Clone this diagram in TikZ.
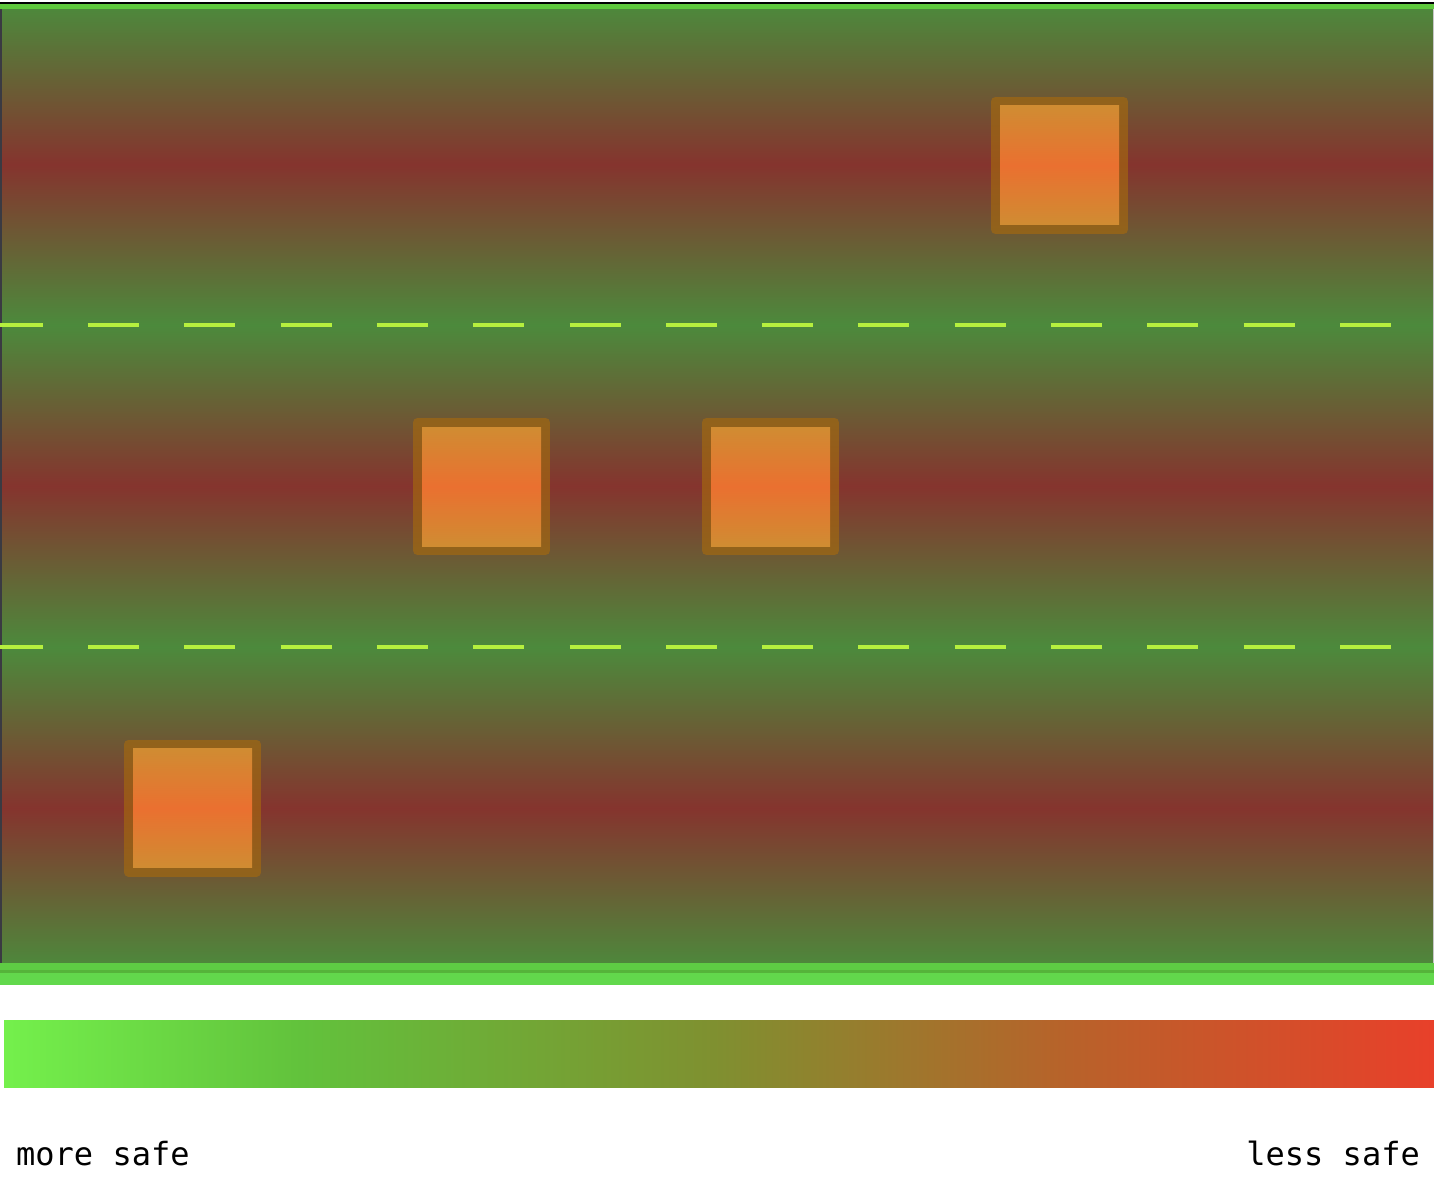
\documentclass[tikz,border=0pt]{standalone}
\usepackage{fontspec}
\newfontfamily\monofont{DejaVu Sans Mono}
\definecolor{laneG}{RGB}{76,138,60}
\definecolor{laneR}{RGB}{133,52,46}
\definecolor{dashC}{RGB}{182,240,62}
\definecolor{topG}{RGB}{94,200,60}
\definecolor{botA}{RGB}{94,204,68}
\definecolor{botB}{RGB}{85,180,58}
\definecolor{botC}{RGB}{98,216,76}
\definecolor{edgeC}{RGB}{58,58,66}
\definecolor{boxBorder}{RGB}{165,105,15}
\definecolor{boxEdgeFill}{RGB}{208,140,50}
\definecolor{boxMidFill}{RGB}{234,112,48}
\pgfdeclarehorizontalshading{safebar}{100bp}{rgb(0bp)=(0.455,0.941,0.298); rgb(25bp)=(0.455,0.941,0.298); rgb(35.35bp)=(0.384,0.761,0.235); rgb(49.8bp)=(0.498,0.565,0.188); rgb(62.25bp)=(0.722,0.384,0.165); rgb(75bp)=(0.91,0.251,0.165); rgb(100bp)=(0.91,0.251,0.165)}
\tikzset{
  lane/.style={top color=laneG, bottom color=laneG, middle color=laneR},
  lanemark/.style={draw=dashC, line width=3.5pt, dash pattern=on 51pt off 45.3pt, dash phase=8.3pt},
  boxedge/.style={draw=boxBorder, draw opacity=0.65, line width=9pt, line join=round},
  boxinner/.style={top color=boxEdgeFill, bottom color=boxEdgeFill, middle color=boxMidFill},
  label/.style={inner sep=0pt, font=\monofont\fontsize{32}{38}\selectfont}
}
\begin{document}
\begin{tikzpicture}[x=1pt,y=-1pt]
\useasboundingbox (0,0) rectangle (1434,1198);
\fill[white] (0,0) rectangle (1434,1198);
% road lanes
\shade[lane] (0,4) rectangle (1434,325);
\shade[lane] (0,325) rectangle (1434,647);
\shade[lane] (0,647) rectangle (1434,969);
% edges
\fill[edgeC] (0,9) rectangle (2,963);
\fill[gray!45] (1433,9) rectangle (1434,963);
% lane markings
\draw[lanemark] (0,325) -- (1434,325);
\draw[lanemark] (0,647) -- (1434,647);
\fill[black] (0,2.5) rectangle (1434,4);
\fill[topG] (0,4) rectangle (1434,9);
\fill[botA] (0,963) rectangle (1434,970);
\fill[botB] (0,970) rectangle (1434,973);
\fill[botC] (0,973) rectangle (1434,985);
% obstacles
\foreach \cx/\cy in {1059.5/165.5, 481.5/486.5, 770.5/486.5, 192.5/808}{
  \draw[boxedge] (\cx-64,\cy-64) rectangle (\cx+64,\cy+64);
  \shade[boxinner] (\cx-59.5,\cy-59.5) rectangle (\cx+59.5,\cy+59.5);
}
% safety colour bar
\shade[shading=safebar] (4,1020) rectangle (1434,1087);
\node[label, anchor=base west] (more) at (16,1165) {more safe};
\node[label, anchor=base east] (less) at (1420,1165) {less safe};
\end{tikzpicture}
\end{document}
